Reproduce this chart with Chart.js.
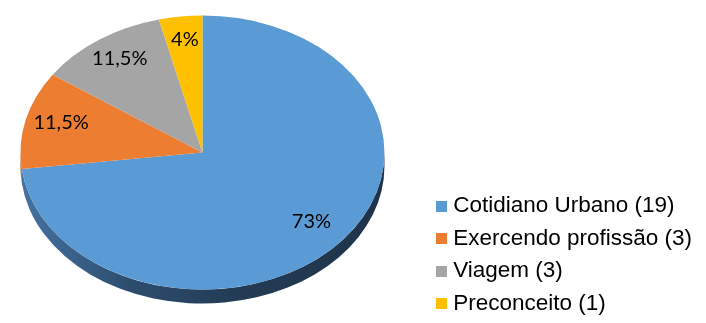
<!DOCTYPE html>
<html>
<head>
<meta charset="utf-8">
<script src="https://cdn.jsdelivr.net/npm/chart.js@4.4.1/dist/chart.umd.min.js"></script>
<style>
  html, body { margin: 0; padding: 0; background: #fff; overflow: hidden; }
  #page { width: 706px; height: 323px; position: relative; overflow: hidden; }
  /* canvas a bit larger than the page so the pie sits where it should */
  #wrap { position: absolute; left: -26px; top: -6px; width: 732px; height: 331px; }
</style>
</head>
<body>
<div id="page"><div id="wrap"><canvas id="pieChart"></canvas></div></div>
<script>
// ============================================
// Pie 3D — temas (26 casos)
// ============================================

const categories = ['Cotidiano Urbano (19)', 'Exercendo profissão (3)', 'Viagem (3)', 'Preconceito (1)'];
const counts = [19, 3, 3, 1];
const percentLabels = ['73%', '11,5%', '11,5%', '4%'];
const sliceColors = ['#5B9BD5', '#ED7D31', '#A5A5A5', '#FFC000'];
const sideColors = [
  ['#4673a1', '#2d4d6f', '#233b54', '#1f344a'],
  ['#a8561f', '#8a4418', '#7a3c15', '#6e3612'],
  ['#7a7a7a', '#666666', '#5a5a5a', '#505050'],
  ['#c29200', '#a67c00', '#946f00', '#856300'],
];

const TILT = 0.753;   // ry / rx of the top face
const DEPTH = 14;     // thickness of the side
const RADIUS = 182;

// small square for the legend, text sits close to it
function legendSwatch(color) {
  const c = document.createElement('canvas');
  c.width = 11;
  c.height = 11;
  const g = c.getContext('2d');
  g.fillStyle = color;
  g.fillRect(0, 0, 11, 11);
  return c;
}

const pie3d = {
  id: 'pie3d',
  beforeDatasetsDraw(chart) {
    const ctx = chart.ctx;
    const arcs = chart.getDatasetMeta(0).data;
    if (!arcs.length) return;
    const { x, y, outerRadius } = arcs[0].getProps(['x', 'y', 'outerRadius'], true);
    const cy = y - DEPTH / 2;
    const ry = outerRadius * TILT;

    // side wall (only the front half can be seen)
    arcs.forEach((arc, i) => {
      const p = arc.getProps(['startAngle', 'endAngle'], true);
      const a = Math.max(p.startAngle, 0);
      const b = Math.min(p.endAngle, Math.PI);
      if (b <= a) return;
      const grad = ctx.createLinearGradient(x - outerRadius, 0, x + outerRadius, 0);
      const stops = sideColors[i];
      grad.addColorStop(0, stops[0]);
      grad.addColorStop(0.3, stops[1]);
      grad.addColorStop(0.6, stops[2]);
      grad.addColorStop(1, stops[3]);
      ctx.save();
      ctx.beginPath();
      ctx.ellipse(x, cy, outerRadius, ry, 0, a, b);
      ctx.ellipse(x, cy + DEPTH, outerRadius, ry, 0, b, a, true);
      ctx.closePath();
      ctx.fillStyle = grad;
      ctx.fill();
      ctx.restore();
    });

    // squash the top face into an ellipse
    ctx.save();
    ctx.translate(x, cy);
    ctx.scale(1, TILT);
    ctx.translate(-x, -y);
  },
  afterDatasetsDraw(chart) {
    const ctx = chart.ctx;
    ctx.restore();
    const arcs = chart.getDatasetMeta(0).data;
    if (!arcs.length) return;
    ctx.save();
    ctx.font = "20px Lato, 'Noto Sans', sans-serif";
    ctx.fillStyle = '#000';
    ctx.textAlign = 'center';
    ctx.textBaseline = 'middle';
    arcs.forEach((arc, i) => {
      const p = arc.getProps(['x', 'y', 'startAngle', 'endAngle', 'outerRadius'], true);
      const mid = (p.startAngle + p.endAngle) / 2;
      const r = p.outerRadius * 0.8;
      const lx = p.x + Math.cos(mid) * r;
      const ly = p.y - DEPTH / 2 + Math.sin(mid) * r * TILT - 4;
      ctx.fillText(percentLabels[i], lx, ly);
    });
    ctx.restore();
  },
};

new Chart(document.getElementById('pieChart'), {
  type: 'pie',
  data: {
    labels: categories,
    datasets: [{
      data: counts,
      backgroundColor: sliceColors,
      borderWidth: 0,
      radius: RADIUS,
      clip: false,
    }],
  },
  options: {
    responsive: true,
    maintainAspectRatio: false,
    animation: false,
    layout: { padding: { left: 0, right: 4, top: 0, bottom: 0 } },
    plugins: {
      tooltip: { enabled: false },
      legend: {
        position: 'right',
        align: 'end',
        labels: {
          color: '#000',
          font: { family: "'Liberation Sans', Arial, sans-serif", size: 22.5 },
          padding: 10,
          usePointStyle: true,
          boxWidth: 1,
          generateLabels: () => categories.map((text, i) => ({
            text,
            fillStyle: sliceColors[i],
            strokeStyle: sliceColors[i],
            lineWidth: 0,
            pointStyle: legendSwatch(sliceColors[i]),
            hidden: false,
            index: i,
            datasetIndex: 0,
          })),
        },
      },
    },
  },
  plugins: [pie3d],
});
</script>
</body>
</html>
